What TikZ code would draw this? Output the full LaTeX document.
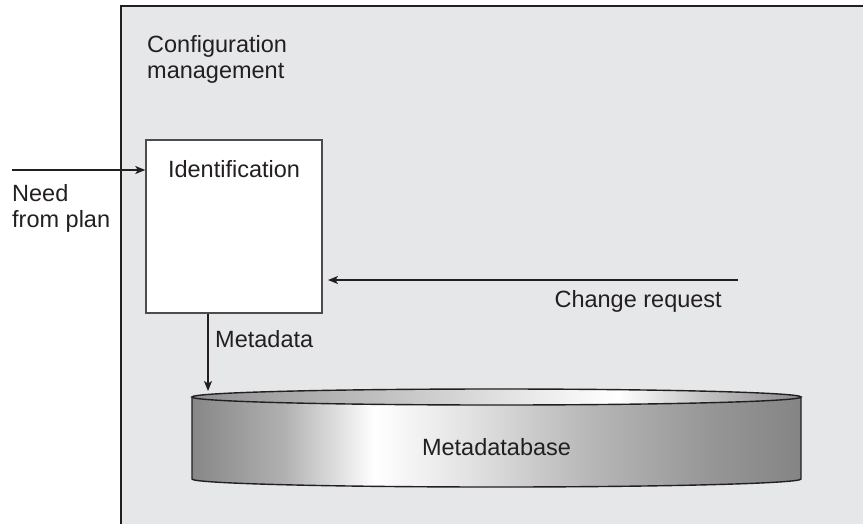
\documentclass[tikz,border=0pt]{standalone}
\usepackage{fontspec}
\setmainfont{Liberation Sans}
\usetikzlibrary{arrows.meta}
\definecolor{panel}{HTML}{E6E7E8}
\definecolor{ink}{HTML}{231F20}
\definecolor{boxline}{HTML}{4D4D4F}
\pgfdeclarehorizontalshading{dbbody}{100bp}{%
  color(0bp)=(black!47); color(25bp)=(black!47); color(32.5bp)=(black!31);
  color(40bp)=(white); color(47.5bp)=(black!11); color(57.5bp)=(black!28);
  color(67.5bp)=(black!41); color(75bp)=(black!48); color(100bp)=(black!48)}
\pgfdeclarehorizontalshading{dbtop}{100bp}{%
  color(0bp)=(black!44); color(25bp)=(black!44); color(42.5bp)=(black!22);
  color(52.5bp)=(black!9); color(60bp)=(white); color(67.5bp)=(black!25);
  color(75bp)=(black!46); color(100bp)=(black!46)}
\newcommand\lblfont{\fontsize{23.5}{26}\selectfont}
\tikzset{
  lbl/.style={inner sep=0pt, text=ink, font=\lblfont},
  arr/.style={draw=ink, line width=1.3pt, -{Stealth[length=10pt,width=8pt,inset=2.5pt]}},
  procbox/.style={draw=boxline, line width=1.4pt, fill=white, inner sep=0pt,
                  minimum width=176pt, minimum height=173pt},
}
\begin{document}
\begin{tikzpicture}[x=1pt,y=-1pt]
\useasboundingbox (0,0) rectangle (863,523);
% panel
\fill[panel] (121,6) rectangle (870,530);
\draw[ink, line width=2.6pt] (121,530) -- (121,6) -- (870,6);
\node[lbl, anchor=base west] (cm1) at (147,52) {Configuration};
\node[lbl, anchor=base west] (cm2) at (147,78) {management};
% identification box
\node[procbox] (ident) at (234,226.5) {};
\node[lbl, anchor=base] (identlbl) at (234,177) {Identification};
% need from plan
\coordinate (needstart) at (12,170);
\draw[arr] (needstart) -- (ident.west |- needstart);
\node[lbl, anchor=base west] (need1) at (12,201) {Need};
\node[lbl, anchor=base west] (need2) at (12,227) {from plan};
% change request
\coordinate (crstart) at (738,280);
\coordinate (crend) at (328,280);
\draw[arr] (crstart) -- (crend);
\node[lbl, anchor=base east] (cr) at (722,307) {Change request};
% cylinder
\shade[shading=dbbody] (192,397) -- (192,479) arc[start angle=180, end angle=0, x radius=304.5, y radius=8] -- (801,397) -- cycle;
\draw[ink, line width=1.4pt] (192,397) -- (192,479) arc[start angle=180, end angle=0, x radius=304.5, y radius=8] -- (801,397);
\shadedraw[shading=dbtop, draw=ink, line width=1.4pt] (496.5,397) ellipse [x radius=304.5, y radius=8];
\node[lbl, anchor=base] (db) at (496.5,455) {Metadatabase};
% metadata arrow
\coordinate (mdend) at (208,391);
\draw[arr] (ident.south -| mdend) -- (mdend);
\node[lbl, anchor=base west] (md) at (215,347) {Metadata};
\end{tikzpicture}
\end{document}
